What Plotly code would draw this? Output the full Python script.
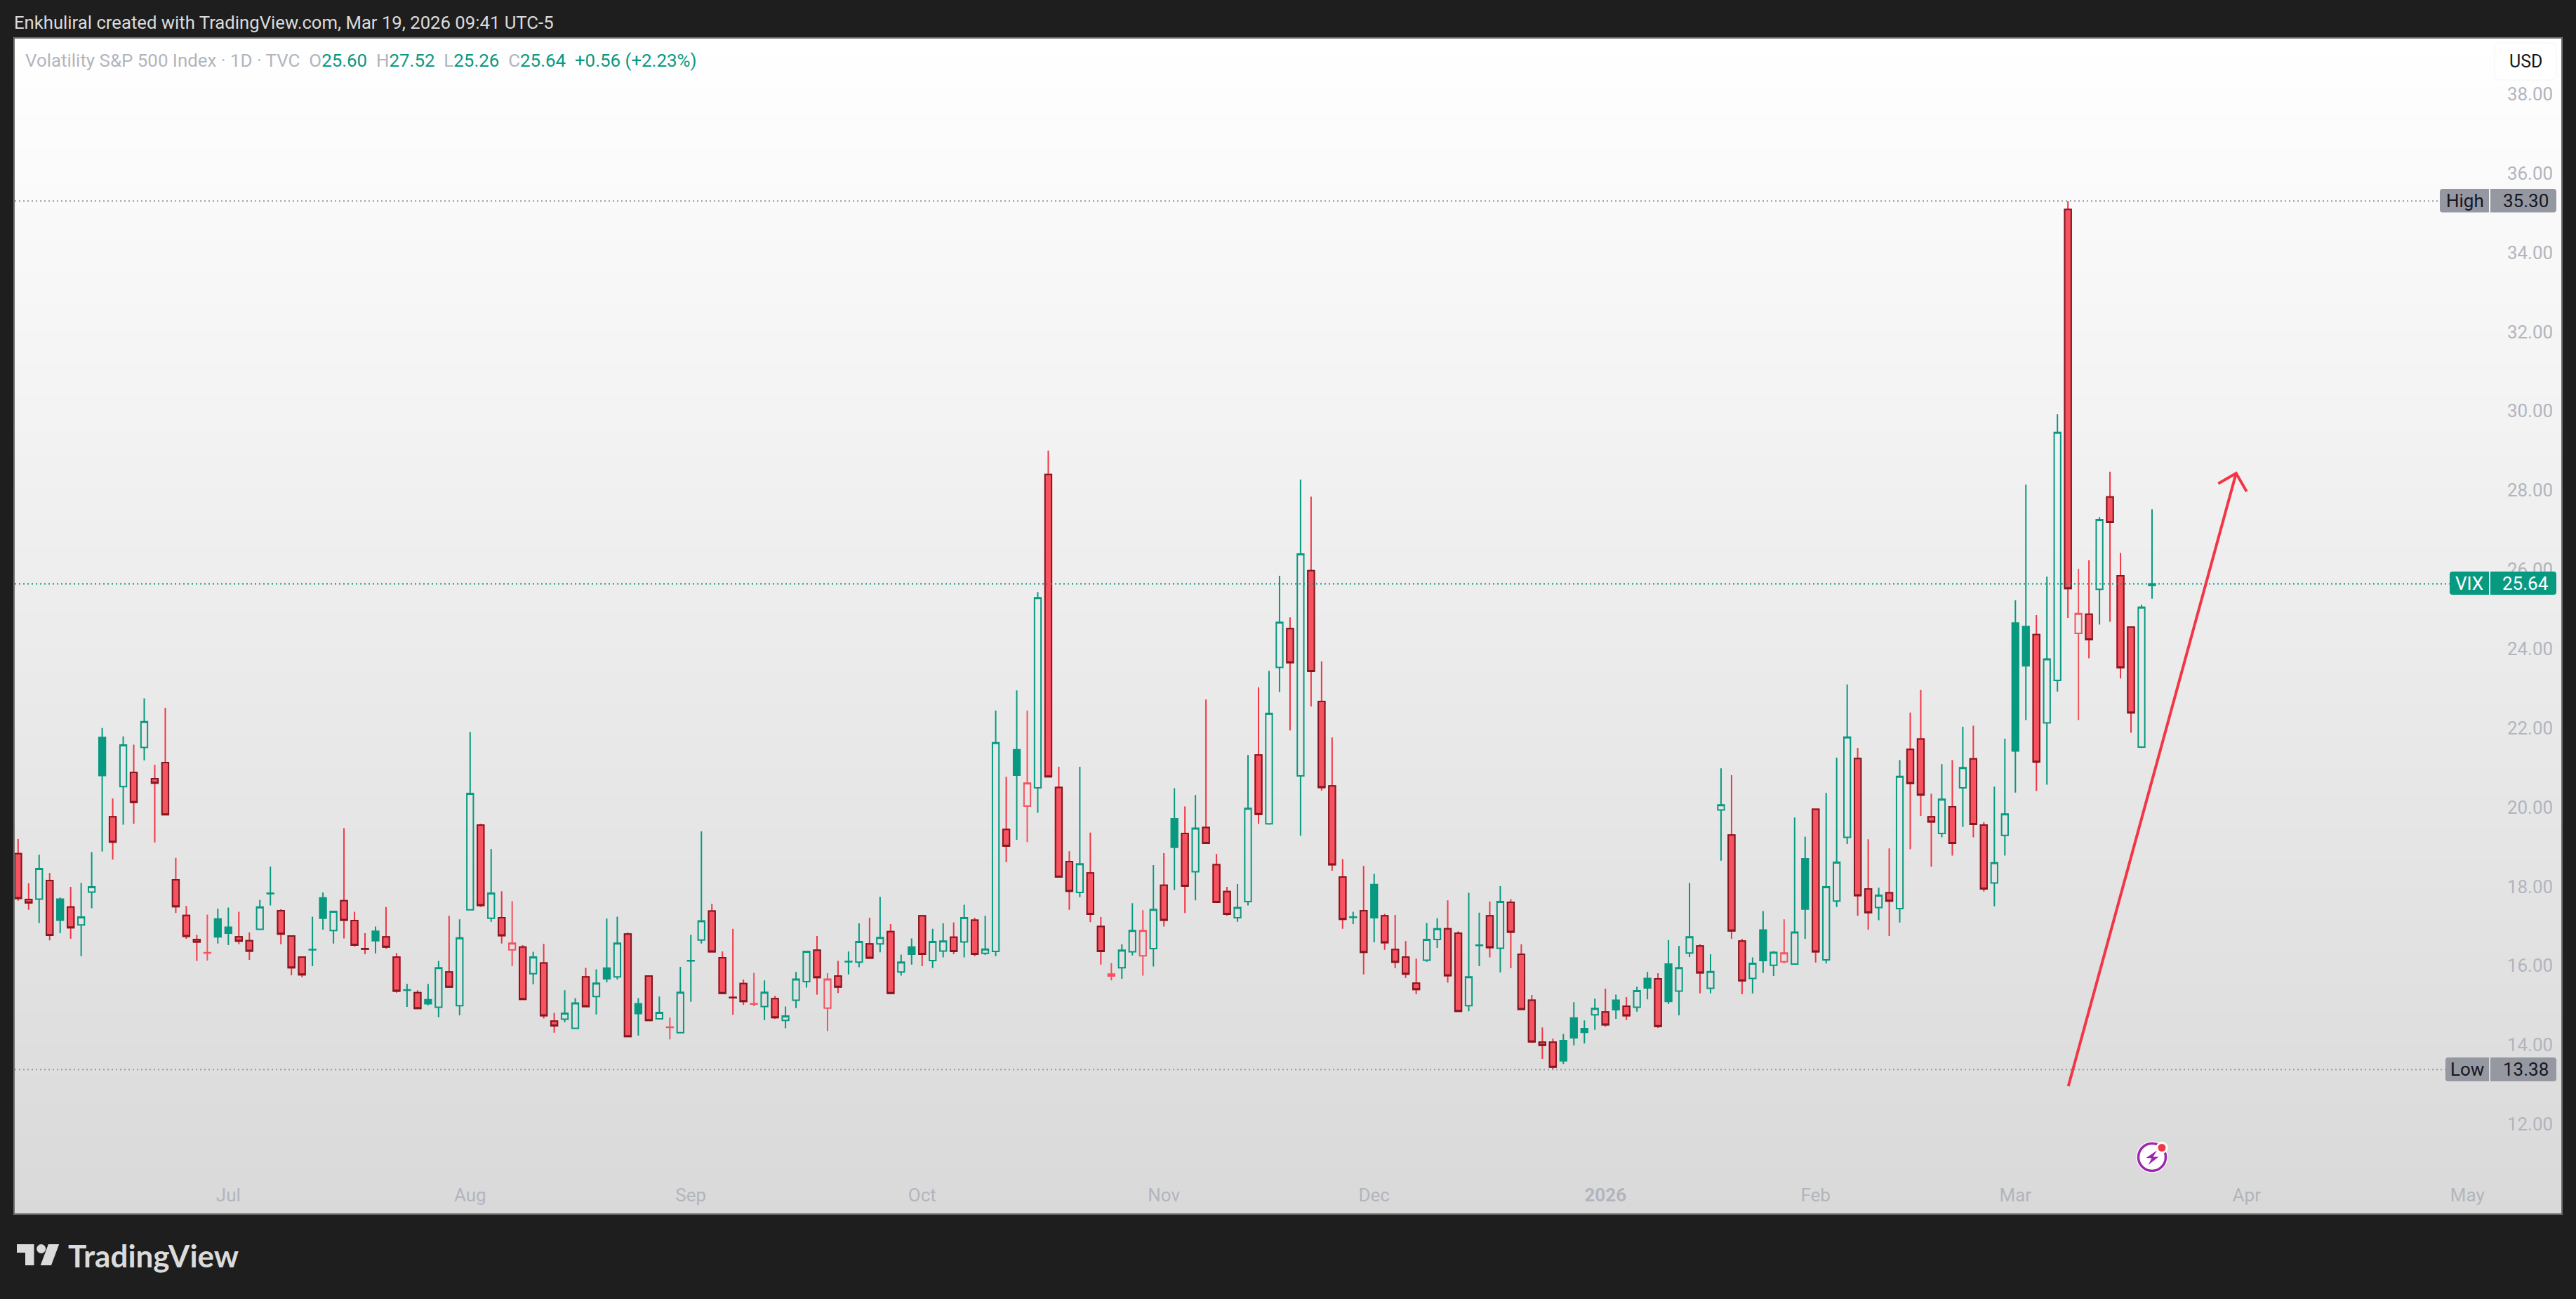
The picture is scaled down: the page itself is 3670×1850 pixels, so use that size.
import plotly.graph_objects as go

# ---------- data (VIX daily, bar by bar) ----------
# R = filled red, G = hollow green, g = filled green, r = hollow red
kinds = list(
    "RRGRgRGGgR" "GRGRRRRRrg" "gRRGGRRRGg" "GRRRgRRGRg" "GRGGRGRrRG"
    "RRGGRGgGRg" "RGrGGGRRRR" "rGRGGGRrRG" "GRGRGgRGGR" "GRGGRgrGRR"
    "RGRRrGGrGR" "gRGRRRGGRG" "GRGRRRRGRg" "RRRRGGRRGG" "RGRRRRRggg"
    "GRgRGgRgGG" "RGGRRGgGrG" "gRGGGRRGRG" "RRRGRGRRGG" "ggRGGRrRGR" "RRGG"
)
highs = [
    19.20,18.08,18.80,18.34,17.72,17.99,18.09,18.87,22.00,20.22,
    21.79,21.58,22.75,21.07,22.51,18.72,17.51,16.78,17.29,17.44,
    17.47,17.36,16.84,17.66,18.50,17.43,16.75,16.22,17.24,17.85,
    17.37,19.47,17.36,16.82,16.99,17.48,16.32,15.54,15.38,15.54,
    16.12,17.26,17.17,21.90,19.58,18.95,17.88,17.63,16.52,16.35,
    16.55,14.81,15.38,15.18,15.95,15.91,17.19,17.24,16.84,15.18,
    15.75,15.22,14.69,15.97,16.78,19.39,17.56,16.36,16.93,15.65,
    15.82,15.63,15.24,14.97,15.84,16.37,16.75,15.81,16.12,16.36,
    17.07,17.21,17.74,17.05,16.28,16.69,17.27,16.93,17.07,17.09,
    17.54,17.21,17.26,22.44,20.77,22.95,22.44,25.43,29.00,21.02,
    18.89,21.02,19.36,17.23,16.07,16.54,17.58,17.40,18.54,18.84,
    20.48,20.02,20.31,22.72,18.82,17.99,18.06,21.32,23.03,23.44,
    25.84,24.79,28.27,27.84,23.68,21.76,18.69,17.36,18.52,18.32,
    17.31,17.28,16.62,16.18,17.08,17.20,17.65,16.87,17.84,17.34,
    17.62,18.01,17.68,16.54,15.26,14.44,14.16,14.28,15.08,14.62,
    15.17,15.42,15.27,15.21,15.47,15.84,15.81,16.65,16.50,18.09,
    16.54,16.29,20.98,20.81,16.68,16.21,17.38,16.37,17.17,19.74,
    19.26,19.95,20.36,21.25,23.10,21.50,19.19,17.97,18.96,21.19,
    22.39,22.96,20.34,21.09,21.19,22.03,22.06,19.62,20.52,21.73,
    25.22,28.14,24.85,25.82,29.92,35.30,26.02,26.23,27.32,28.47,
    26.42,24.56,25.11,27.52,
]
body_tops = [
    18.83,17.67,18.45,18.15,17.68,17.48,17.23,17.99,21.76,19.76,
    21.57,20.88,22.16,20.72,21.13,18.17,17.27,16.66,16.33,17.18,
    16.97,16.73,16.63,17.48,17.83,17.39,16.75,16.22,16.41,17.71,
    17.37,17.64,17.14,16.43,16.87,16.73,16.22,15.39,15.32,15.14,
    15.95,15.84,16.70,20.35,19.55,17.83,17.21,16.57,16.47,16.22,
    16.07,14.60,14.80,15.06,15.72,15.56,15.94,16.57,16.80,15.04,
    15.74,14.82,14.45,15.33,16.13,17.13,17.38,16.20,15.20,15.55,
    15.04,15.33,15.17,14.73,15.66,16.36,16.39,15.66,15.74,16.11,
    16.61,16.55,16.71,16.86,16.09,16.47,17.26,16.61,16.62,16.72,
    17.21,17.15,16.42,21.63,19.44,21.45,20.61,25.29,28.40,20.50,
    18.63,18.57,18.34,16.99,15.79,16.39,16.89,16.89,17.42,18.03,
    19.71,19.34,19.47,19.49,18.55,17.87,17.47,19.97,21.32,22.37,
    24.67,24.51,26.39,25.97,22.67,20.54,18.24,17.23,17.39,18.05,
    17.26,16.41,16.22,15.56,16.66,16.93,16.93,16.82,15.72,16.52,
    17.26,17.62,17.60,16.29,15.13,14.07,14.07,14.11,14.68,14.41,
    14.92,14.83,15.13,14.98,15.37,15.68,15.67,16.04,15.95,16.73,
    16.50,15.85,20.06,19.30,16.62,16.06,16.90,16.34,16.32,16.85,
    18.70,19.95,17.99,18.61,21.77,21.23,17.94,17.78,17.84,20.78,
    21.46,21.72,19.76,20.20,20.01,21.00,21.22,19.55,18.60,19.83,
    24.65,24.56,24.36,23.74,29.46,35.09,24.89,24.87,27.26,27.83,
    25.84,24.55,25.05,25.64,
]
body_bottoms = [
    17.70,17.59,17.68,16.77,17.15,16.96,17.03,17.86,20.80,19.12,
    20.52,20.12,21.51,20.61,19.81,17.49,16.74,16.60,16.32,16.73,
    16.82,16.62,16.37,16.92,17.82,16.80,15.95,15.77,16.40,17.20,
    16.89,17.15,16.52,16.42,16.63,16.47,15.36,15.38,14.92,15.04,
    14.95,15.46,14.99,17.41,17.52,17.20,16.76,16.40,15.15,15.80,
    14.74,14.48,14.65,14.42,14.97,15.22,15.67,15.72,14.21,14.79,
    14.62,14.66,14.44,14.31,16.12,16.65,16.35,15.30,15.19,15.10,
    15.03,14.97,14.69,14.62,15.13,15.60,15.70,14.93,15.46,16.10,
    16.09,16.19,16.55,15.30,15.84,16.29,16.29,16.13,16.37,16.36,
    16.60,16.29,16.31,16.36,19.02,20.81,20.03,20.49,20.77,18.24,
    17.88,17.85,17.30,16.36,15.74,15.95,16.35,16.25,16.43,17.15,
    18.99,18.01,18.37,19.09,17.60,17.30,17.21,17.62,19.82,19.58,
    23.53,23.65,20.79,23.43,20.50,18.55,17.17,17.22,16.34,17.21,
    16.58,16.09,15.79,15.40,16.14,16.66,15.75,14.85,14.99,16.51,
    16.46,16.44,16.85,14.90,14.08,13.99,13.44,13.60,14.18,14.32,
    14.76,14.51,14.89,14.74,14.95,15.44,14.47,15.10,15.36,16.32,
    15.82,15.43,19.93,16.88,15.62,15.68,16.13,16.01,16.10,16.04,
    17.43,16.35,16.15,17.63,19.24,17.77,17.34,17.47,17.63,17.44,
    20.60,20.31,19.63,19.34,19.09,20.49,19.57,17.94,18.09,19.29,
    21.42,23.57,21.14,22.13,23.20,25.52,24.39,24.23,25.50,27.19,
    23.52,22.38,21.52,25.60,
]
lows = [
    17.64,17.41,17.08,16.64,16.82,16.68,16.24,17.45,18.88,18.68,
    19.56,19.58,21.18,19.11,19.81,17.33,16.68,16.12,16.13,16.56,
    16.52,16.54,16.15,16.92,17.52,16.54,15.76,15.71,15.99,16.91,
    16.56,16.69,16.48,16.29,16.31,16.43,15.32,14.96,14.92,15.00,
    14.70,15.44,14.75,17.41,17.48,17.11,16.56,15.99,15.15,15.53,
    14.67,14.31,14.57,14.40,14.97,14.77,15.58,15.65,14.21,14.24,
    14.62,14.66,14.14,14.31,15.09,16.56,16.35,15.30,14.76,15.01,
    14.98,14.63,14.66,14.42,14.93,15.45,15.27,14.35,15.31,15.78,
    15.96,16.19,16.34,15.30,15.75,16.03,15.99,15.94,16.21,16.29,
    16.21,16.24,16.27,16.24,18.61,19.18,19.12,19.86,20.77,18.24,
    17.41,17.73,17.10,16.03,15.63,15.67,16.26,15.75,15.98,16.99,
    17.91,17.33,17.65,19.09,17.60,17.26,17.11,17.52,19.58,19.56,
    22.91,21.94,19.28,22.54,20.42,18.40,16.93,17.05,15.78,16.59,
    16.40,15.94,15.69,15.28,16.10,16.45,15.57,14.85,14.85,15.99,
    16.21,15.83,15.94,14.90,14.05,13.65,13.38,13.52,13.99,14.04,
    14.38,14.46,14.66,14.63,14.84,15.15,14.43,15.03,14.75,16.22,
    15.30,15.30,18.65,16.68,15.28,15.30,15.82,15.74,16.06,16.04,
    16.68,16.08,16.06,17.48,19.07,17.26,16.91,17.15,16.75,17.09,
    18.94,19.78,18.50,19.24,18.78,19.50,19.24,17.87,17.50,18.78,
    20.37,22.20,20.41,20.57,22.92,24.78,22.20,23.76,24.61,24.68,
    23.25,21.88,21.49,25.26,
]
month_labels = ["Jul", "Aug", "Sep", "Oct", "Nov", "Dec", "<b>2026</b>", "Feb", "Mar", "Apr", "May"]
month_bars = [20, 43, 64, 86, 109, 129, 151, 171, 190, 212, 233]
price_ticks = [12, 14, 16, 18, 20, 22, 24, 26, 28, 30, 32, 34, 36, 38]
high_price = 35.30
low_price = 13.38
last_price = 25.64
arrow_bars = [195.04, 211.0, None, 209.3, 211.0, 212.0]
arrow_prices = [12.96, 28.43, None, 28.17, 28.43, 27.97]
gradient_prices = [9.73, 39.40]
gradient_levels = [217, 255]

# ---------- page geometry and colours ----------
W, H = 3670, 1850
PL, PR, PT, PB = 21, 3649, 55, 1728
X_RANGE = [-0.32, 241.93]
Y_RANGE = [9.75, 39.40]
PAGE = "#1e1e1e"
GREEN = "#089981"
RED = "#f23645"
RED_FILL = "#f7525f"
RED_DARK = "#801922"
GREY = "#9598a1"
AXIS_TEXT = "#b2b5be"
FONT = "Roboto"


def fx(px):
    return (px - PL) / (PR - PL)


def fy(py):
    return (PB - py) / (PB - PT)


def rounded(x0, y0, x1, y1, rl=0, rr=0):
    """Path in paper coordinates for a rectangle given in page pixels."""
    p = [
        f"M{fx(x0 + rl)},{fy(y0)}",
        f"L{fx(x1 - rr)},{fy(y0)}",
        f"Q{fx(x1)},{fy(y0)} {fx(x1)},{fy(y0 + rr)}",
        f"L{fx(x1)},{fy(y1 - rr)}",
        f"Q{fx(x1)},{fy(y1)} {fx(x1 - rr)},{fy(y1)}",
        f"L{fx(x0 + rl)},{fy(y1)}",
        f"Q{fx(x0)},{fy(y1)} {fx(x0)},{fy(y1 - rl)}",
        f"L{fx(x0)},{fy(y0 + rl)}",
        f"Q{fx(x0)},{fy(y0)} {fx(x0 + rl)},{fy(y0)}",
        "Z",
    ]
    return " ".join(p)


def poly(points):
    return "M" + " L".join(f"{fx(x)},{fy(y)}" for x, y in points) + " Z"


def path_shape(path, fill, line=None, width=0):
    return dict(type="path", xref="paper", yref="paper", path=path, fillcolor=fill,
                line=dict(color=line or "rgba(0,0,0,0)", width=width), layer="above")


def circle(cx, cy, r, fill, line=None, width=0):
    return dict(type="circle", xref="paper", yref="paper",
                x0=fx(cx - r), x1=fx(cx + r), y0=fy(cy + r), y1=fy(cy - r),
                fillcolor=fill, line=dict(color=line or "rgba(0,0,0,0)", width=width), layer="above")


def label(px, py, text, size, color, anchor="left", family=FONT, weight=None):
    font = dict(family=family, size=size, color=color)
    if weight:
        font["weight"] = weight
    return dict(xref="paper", yref="paper", x=fx(px), y=fy(py), text=text, showarrow=False,
                xanchor=anchor, yanchor="middle", font=font, borderpad=0, borderwidth=0)


def price_line(price, color, end_px):
    return dict(type="line", xref="paper", yref="y", x0=0, x1=fx(end_px), y0=price, y1=price,
                line=dict(color=color, width=2, dash="2px,4px"), layer="above")


fig = go.Figure()

# background gradient
fig.add_trace(go.Heatmap(
    x=X_RANGE, y=gradient_prices,
    z=[[gradient_levels[0]] * 2, [gradient_levels[1]] * 2],
    zmin=gradient_levels[0], zmax=gradient_levels[1], zsmooth="best", showscale=False,
    colorscale=[[0, f"rgb({gradient_levels[0]},{gradient_levels[0]},{gradient_levels[0]})"],
                [1, f"rgb({gradient_levels[1]},{gradient_levels[1]},{gradient_levels[1]})"]],
    hoverinfo="skip",
))


def candles(kind, line, fill, body_only=False):
    idx = [i for i, k in enumerate(kinds) if k == kind]
    up = kind in "Gr"
    opens = [body_bottoms[i] if up else body_tops[i] for i in idx]
    closes = [body_tops[i] if up else body_bottoms[i] for i in idx]
    style = dict(line=dict(color=line, width=2), fillcolor=fill)
    fig.add_trace(go.Candlestick(
        x=idx, open=opens, close=closes,
        high=[body_tops[i] if body_only else highs[i] for i in idx],
        low=[body_bottoms[i] if body_only else lows[i] for i in idx],
        increasing=style, decreasing=style, showlegend=False, hoverinfo="skip",
    ))


candles("G", GREEN, "rgba(0,0,0,0)")
candles("g", GREEN, GREEN)
candles("r", RED_FILL, "rgba(0,0,0,0)")
candles("R", RED, RED_FILL)
candles("R", RED_DARK, RED_FILL, body_only=True)

# hand-drawn arrow
fig.add_trace(go.Scatter(x=arrow_bars, y=arrow_prices, mode="lines", showlegend=False, hoverinfo="skip",
                         line=dict(color=RED, width=4), connectgaps=False))

shapes = [
    price_line(high_price, GREY, 3476),
    price_line(low_price, GREY, 3484),
    price_line(last_price, GREEN, 3490),
    # USD box
    path_shape(rounded(3554, 61, 3642, 114, 8, 8), "#ffffff", "#f0f3fa", 1),
    # High badge
    path_shape(rounded(3476, 269, 3546, 302.5, 4, 0), GREY),
    path_shape(rounded(3548, 269, 3642, 302.5, 0, 4), GREY),
    # Last badge
    path_shape(rounded(3490, 814, 3546, 847, 4, 0), GREEN),
    path_shape(rounded(3548, 814, 3642, 847, 0, 4), GREEN),
    # Low badge
    path_shape(rounded(3484, 1506, 3546, 1540, 4, 0), GREY),
    path_shape(rounded(3548, 1506, 3642, 1540, 0, 4), GREY),
    # lightning icon
    circle(3066, 1648, 22.5, "#ffffff"),
    circle(3066, 1648, 19.5, "#ffffff", "#9c27b0", 3.5),
    path_shape(poly([(3073, 1638.5), (3057.5, 1649), (3065.5, 1649.5), (3060.5, 1659),
                     (3075.5, 1647.5), (3067.5, 1647.5)]), "#9c27b0"),
    circle(3080, 1634.5, 8.5, "#ffffff"),
    circle(3080, 1634.5, 5.5, RED),
    # TradingView logo
    path_shape(poly([(24, 1772), (48.5, 1772), (48.5, 1802), (36, 1802), (36, 1784), (24, 1784)]), "#dbdbdb"),
    circle(58.7, 1778.5, 6.5, "#dbdbdb"),
    path_shape(poly([(68.9, 1772), (84.2, 1772), (73, 1802), (57.7, 1802)]), "#dbdbdb"),
]

legend = (
    '<span style="color:#b2b5be">Volatility S&amp;P 500 Index · 1D · TVC</span>'
    '<span style="color:#b2b5be">  O</span><span style="color:#089981">25.60</span>'
    '<span style="color:#b2b5be">  H</span><span style="color:#089981">27.52</span>'
    '<span style="color:#b2b5be">  L</span><span style="color:#089981">25.26</span>'
    '<span style="color:#b2b5be">  C</span><span style="color:#089981">25.64</span>'
    '<span style="color:#089981">  +0.56 (+2.23%)</span>'
)

annotations = [
    label(20, 32.5, "Enkhuliral created with TradingView.com, Mar 19, 2026 09:41 UTC-5", 25.7, "#dbdbdb"),
    label(36, 86, legend, 25.9, AXIS_TEXT),
    label(3598, 87.5, "USD", 25, "#131722", "center"),
    label(3511.5, 285.5, "High", 26, "#131722", "center"),
    label(3631, 285.5, "35.30", 26, "#131722", "right"),
    label(3518, 830.5, "VIX", 26, "#ffffff", "center"),
    label(3631, 830.5, "25.64", 26, "#ffffff", "right"),
    label(3515, 1522.5, "Low", 26, "#131722", "center"),
    label(3631, 1522.5, "13.38", 26, "#131722", "right"),
    label(97, 1787.5, "TradingView", 44, "#dbdbdb", family="Lato", weight=700),
]

fig.update_layout(
    width=W, height=H,
    margin=dict(l=PL, r=W - PR, t=PT, b=H - PB, pad=0),
    paper_bgcolor=PAGE, plot_bgcolor="#eeeeee",
    boxgap=0.38, boxgroupgap=0, showlegend=False, hovermode=False,
    shapes=shapes, annotations=annotations,
    xaxis=dict(
        range=X_RANGE, rangeslider=dict(visible=False), showgrid=False, zeroline=False,
        tickmode="array", tickvals=month_bars, ticktext=month_labels,
        ticklabelposition="inside", ticks="inside", ticklen=14, tickcolor="rgba(0,0,0,0)",
        tickfont=dict(family=FONT, size=26, color=AXIS_TEXT),
        showline=True, mirror=True, linecolor="#707070", linewidth=2,
    ),
    yaxis=dict(
        range=Y_RANGE, side="right", showgrid=False, zeroline=False,
        tickmode="array", tickvals=price_ticks, ticktext=[f"{v:.2f}" for v in price_ticks],
        ticklabelposition="inside", ticks="inside", ticklen=14, tickcolor="rgba(0,0,0,0)",
        tickfont=dict(family=FONT, size=26, color=AXIS_TEXT),
        showline=True, mirror=True, linecolor="#707070", linewidth=2,
    ),
)

fig.write_html("out.html", config={"displayModeBar": False},
               post_script="document.body.style.margin='0';document.body.style.overflow='hidden';document.body.style.background='#1e1e1e';")
